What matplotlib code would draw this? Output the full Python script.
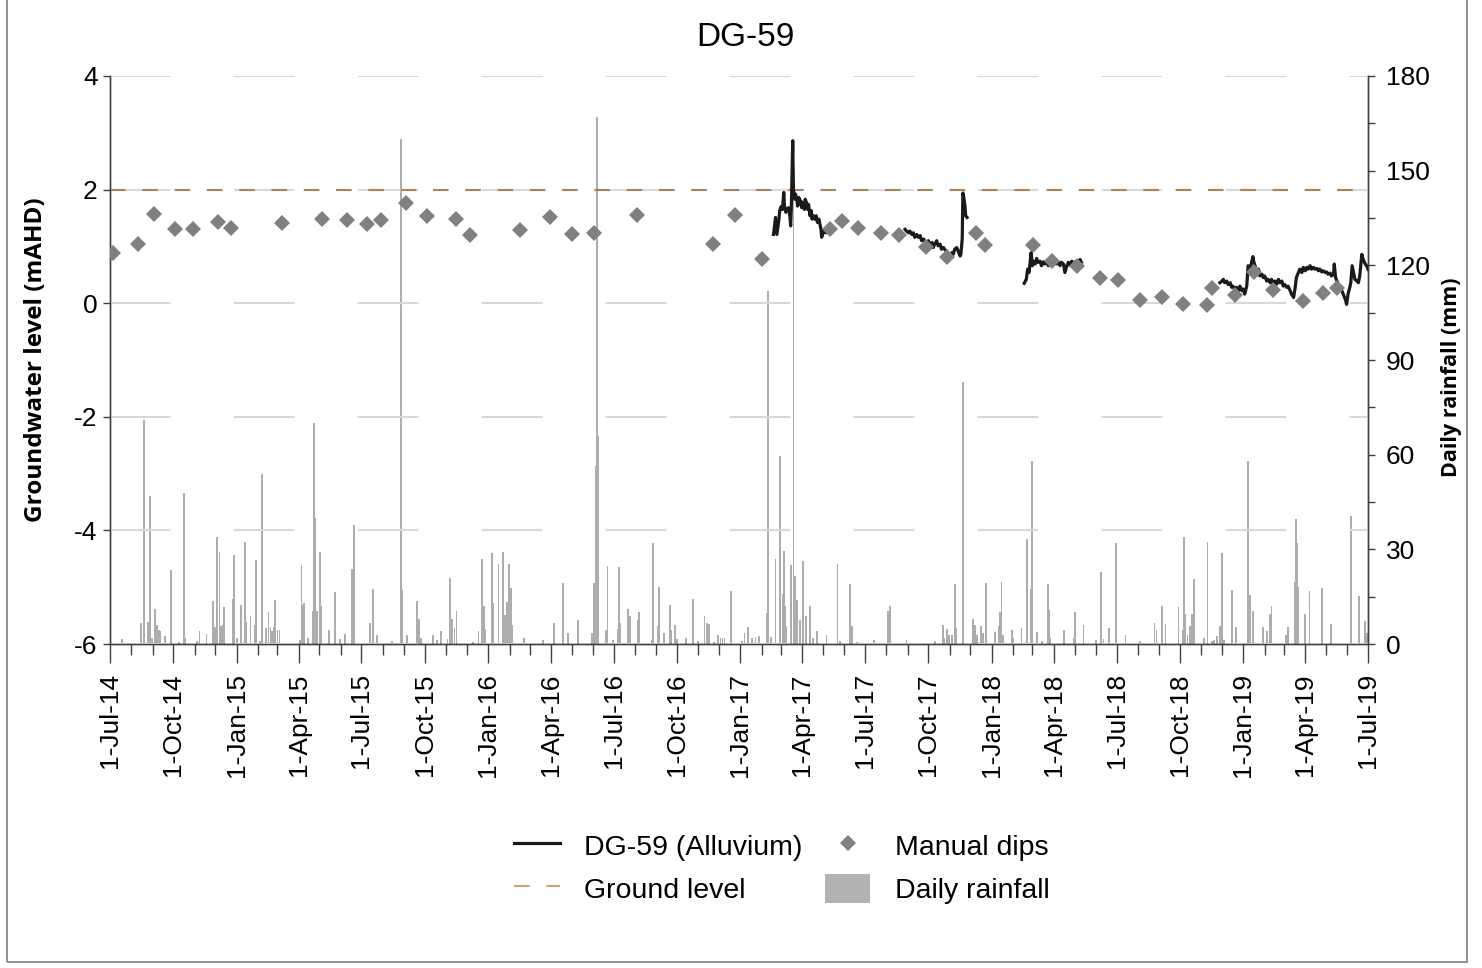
import numpy as np
import pandas as pd
import matplotlib
matplotlib.use("Agg")
import matplotlib.pyplot as plt
import matplotlib.dates as mdates
from matplotlib.lines import Line2D
from matplotlib.patches import Patch, Rectangle

plt.rcParams['font.family'] = ['Liberation Sans', 'DejaVu Sans']
plt.rcParams['axes.unicode_minus'] = False

start = pd.Timestamp('2014-07-01')
end = pd.Timestamp('2019-07-01')

# logger record, days since 1-Jul-2014, level in mAHD (four deployments)
seg_a_day = [963, 964, 966, 968, 969, 971, 972, 974, 976, 978, 979, 981, 983, 985, 987, 988, 989, 991, 992, 994,
             995, 997, 998, 1000, 1001, 1003, 1004, 1006, 1008, 1009, 1011, 1013, 1014, 1016, 1018, 1019, 1021,
             1023, 1025, 1027, 1029, 1031, 1032, 1033, 1035, 1037, 1039, 1041, 1044, 1047, 1050]
seg_a_m = [1.21, 1.30, 1.51, 1.21, 1.30, 1.48, 1.63, 1.70, 1.65, 1.95, 1.70, 1.60, 1.67, 1.68, 1.51, 1.36, 1.71,
           2.86, 2.01, 1.83, 1.92, 1.83, 1.71, 1.86, 1.74, 1.80, 1.68, 1.76, 1.65, 1.83, 1.77, 1.65, 1.74, 1.54,
           1.63, 1.48, 1.54, 1.48, 1.54, 1.42, 1.48, 1.36, 1.30, 1.16, 1.24, 1.30, 1.24, 1.28, 1.30, 1.27, 1.33]
seg_b_day = [1154, 1156, 1159, 1161, 1164, 1166, 1168, 1171, 1173, 1176, 1178, 1181, 1183, 1185, 1188, 1190, 1193,
             1195, 1197, 1200, 1202, 1205, 1207, 1210, 1212, 1214, 1217, 1219, 1222, 1224, 1226, 1229, 1231, 1234,
             1235, 1237, 1238, 1239, 1241, 1242, 1244]
seg_b_m = [1.30, 1.27, 1.24, 1.27, 1.21, 1.24, 1.16, 1.21, 1.16, 1.19, 1.10, 1.13, 1.07, 1.04, 1.10, 1.01, 1.07,
           0.98, 1.04, 1.10, 1.01, 1.04, 0.95, 0.98, 0.94, 0.92, 0.86, 0.83, 0.89, 0.86, 0.95, 0.98, 0.92, 0.83,
           0.86, 1.13, 1.94, 1.89, 1.71, 1.54, 1.51]
seg_c_day = [1327, 1330, 1332, 1334, 1337, 1339, 1340, 1343, 1345, 1347, 1350, 1352, 1355, 1357, 1360, 1362, 1364,
             1367, 1369, 1372, 1374, 1376, 1379, 1381, 1384, 1386, 1389, 1391, 1393, 1396, 1398, 1401, 1403, 1406,
             1408, 1410]
seg_c_m = [0.35, 0.42, 0.60, 0.54, 0.89, 0.66, 0.74, 0.69, 0.79, 0.72, 0.74, 0.66, 0.73, 0.69, 0.74, 0.66, 0.72,
           0.69, 0.72, 0.74, 0.69, 0.73, 0.66, 0.72, 0.69, 0.54, 0.66, 0.72, 0.67, 0.74, 0.70, 0.73, 0.69, 0.74,
           0.77, 0.72]
seg_d_day = [1611, 1614, 1616, 1618, 1621, 1623, 1626, 1628, 1630, 1633, 1635, 1638, 1640, 1643, 1645, 1647, 1650,
             1652, 1655, 1657, 1659, 1660, 1662, 1664, 1667, 1669, 1672, 1674, 1676, 1679, 1681, 1684, 1686, 1689,
             1691, 1693, 1696, 1698, 1701, 1703, 1705, 1708, 1710, 1713, 1715, 1718, 1720, 1722, 1725, 1727, 1730,
             1732, 1735, 1737, 1739, 1742, 1744, 1747, 1749, 1752, 1754, 1756, 1759, 1761, 1764, 1766, 1768, 1771,
             1773, 1776, 1777, 1779, 1781, 1783, 1785, 1788, 1790, 1793, 1795, 1797, 1800, 1801, 1803, 1805, 1807,
             1810, 1812, 1814, 1817, 1819, 1822, 1824, 1826]
seg_d_m = [0.36, 0.39, 0.42, 0.36, 0.39, 0.33, 0.36, 0.28, 0.30, 0.25, 0.28, 0.22, 0.30, 0.22, 0.25, 0.16, 0.30,
           0.66, 0.60, 0.72, 0.82, 0.74, 0.66, 0.57, 0.60, 0.48, 0.51, 0.45, 0.48, 0.39, 0.42, 0.36, 0.42, 0.33,
           0.39, 0.33, 0.42, 0.36, 0.39, 0.30, 0.33, 0.28, 0.30, 0.22, 0.16, 0.10, 0.25, 0.45, 0.54, 0.60, 0.54,
           0.63, 0.57, 0.63, 0.60, 0.66, 0.60, 0.63, 0.60, 0.61, 0.57, 0.60, 0.55, 0.57, 0.54, 0.55, 0.51, 0.53,
           0.48, 0.51, 0.69, 0.45, 0.39, 0.33, 0.25, 0.22, 0.16, 0.07, -0.02, 0.16, 0.30, 0.36, 0.66, 0.54, 0.42,
           0.39, 0.36, 0.48, 0.86, 0.77, 0.69, 0.66, 0.60]

# manual dips
dip_day = [4, 41, 64, 94, 121, 157, 176, 249, 308, 344, 373, 394, 430, 460, 502, 523, 595, 639, 671, 703,
           765, 875, 907, 946, 1045, 1062, 1086, 1119, 1145, 1184, 1215, 1257, 1270, 1340, 1367, 1404, 1437,
           1463, 1495, 1527, 1557, 1592, 1600, 1633, 1661, 1688, 1732, 1761, 1781]
dip_m = [0.88, 1.04, 1.57, 1.30, 1.31, 1.43, 1.33, 1.42, 1.48, 1.46, 1.40, 1.46, 1.77, 1.54, 1.48, 1.20, 1.29,
         1.51, 1.21, 1.23, 1.55, 1.04, 1.55, 0.77, 1.30, 1.44, 1.32, 1.23, 1.20, 0.99, 0.81, 1.23, 1.02, 1.02,
         0.74, 0.65, 0.44, 0.40, 0.05, 0.11, -0.02, -0.04, 0.26, 0.14, 0.55, 0.23, 0.04, 0.18, 0.26]

ground_level = 2.0

# daily rainfall (mm), days since 1-Jul-2014
rain_day = [17, 45, 49, 50, 55, 58, 61, 65, 68, 71, 73, 80, 88, 100, 107, 109, 126, 130, 140, 150, 152, 155, 159,
            161, 164, 166, 178, 180, 184, 190, 196, 197, 204, 211, 212, 218, 221, 226, 230, 233, 235, 238, 240,
            243, 246, 276, 278, 279, 282, 287, 294, 296, 297, 301, 305, 307, 318, 327, 334, 341, 351, 354, 377,
            382, 388, 409, 422, 424, 431, 446, 448, 451, 469, 475, 480, 490, 493, 496, 500, 503, 527, 535, 540,
            543, 545, 554, 556, 564, 571, 573, 576, 579, 582, 584, 601, 628, 645, 658, 665, 679, 700, 703, 705,
            707, 708, 720, 722, 730, 737, 739, 740, 752, 755, 766, 768, 786, 788, 795, 797, 804, 813, 815, 820,
            823, 836, 846, 853, 863, 866, 870, 877, 883, 886, 889, 892, 901, 902, 917, 921, 926, 932, 937, 942,
            953, 955, 959, 966, 972, 976, 978, 980, 982, 989, 992, 994, 997, 998, 1001, 1006, 1010, 1016, 1020,
            1026, 1040, 1056, 1060, 1074, 1077, 1084, 1109, 1129, 1132, 1156, 1198, 1209, 1211, 1215, 1218, 1222,
            1226, 1228, 1238, 1253, 1256, 1258, 1264, 1267, 1272, 1285, 1290, 1292, 1294, 1296, 1309, 1311, 1323,
            1331, 1336, 1338, 1346, 1353, 1361, 1363, 1365, 1385, 1399, 1401, 1413, 1431, 1439, 1442, 1450, 1460,
            1461, 1474, 1495, 1516, 1519, 1527, 1532, 1551, 1558, 1559, 1561, 1564, 1568, 1570, 1573, 1588, 1593,
            1599, 1603, 1607, 1611, 1614, 1617, 1629, 1634, 1652, 1655, 1659, 1674, 1679, 1684, 1686, 1707, 1710,
            1720, 1721, 1723, 1725, 1735, 1741, 1759, 1772, 1801, 1802, 1813, 1822, 1824]
rain_mm = [1.5, 6.8, 71, 49, 7, 47, 2, 11, 6, 4.5, 4, 2.4, 23.5, 0.7, 48, 2, 1, 4.2, 3.2, 13.6, 5.4, 33.8, 29,
           5.7, 6, 11.8, 14.3, 28.2, 2, 12.3, 32.4, 7, 9, 6, 26.6, 1, 53.9, 5, 10.2, 5.3, 4, 5.3, 13.9,
           4.5, 4.4, 1.3, 25, 12.3, 13, 2, 10.6, 70, 40, 10.6, 29, 12, 4.4, 16.6, 1.5, 3.3, 23.7, 37.7, 6.7,
           17.3, 3, 1, 160, 17, 3, 13.6, 8, 2, 3, 1.4, 4, 1.5, 20.8, 8, 5, 10.4, 0.5, 4, 27,
           12, 4.6, 28.7, 13, 25.2, 29, 9.3, 13.3, 25.2, 17.7, 6, 2, 1.4, 6.8, 19.2, 3.5, 7.6, 3.5, 19.2, 56.4,
           167, 66, 4.5, 24.7, 1.4, 4.6, 24.5, 6.6, 11, 9, 7.6, 10.1, 1.4, 32.1, 5.6, 18, 3.5, 12.5, 4.5, 6,
           1.5, 1.8, 14.3, 1, 9, 6.6, 6.4, 0.7, 2.7, 2, 2, 2, 16.9, 8, 1, 3.5, 5.3, 1.8, 2.3, 2.5,
           9.8, 112, 2.3, 27, 59.6, 16, 29.6, 12, 5.6, 25.1, 160, 21.6, 14, 7.8, 7.6, 26.4, 9, 12, 2,
           4, 3, 25.2, 1, 18.9, 5.6, 0.6, 1.4, 10.6, 12, 1.4, 1, 6, 2, 4.6, 3, 3,
           18.9, 5, 83, 7.8, 6, 3, 5.6, 3.5, 19.4, 3.8, 5.6, 10, 19.7, 3, 4.5, 2, 5,
           33.2, 17.4, 58, 3.8, 0.9, 19, 10.8, 1.8, 4.3, 1.8, 10, 6, 1.4, 22.9, 1.5, 5, 31.9,
           5.6, 3, 0.9, 6.6, 4.5, 12, 6.3, 11.8, 4.3, 33.8, 9.5, 3, 5.6, 9.5, 20.5, 2, 32.2,
           1, 1.4, 2.5, 5.6, 28.9, 1.4, 17.1, 5.3, 58, 15.6, 10.6, 5.3, 4.2, 9.5, 12, 3, 5.3,
           19.7, 39.6, 31.9, 18, 9.5, 16.7, 17.7, 6.3, 40.6, 15.9, 15.1, 7.2, 3.5]


def to_dates(days):
    return start + pd.to_timedelta(np.asarray(days), unit='D')


# join logger deployments with gaps between them
log_x, log_y = [], []
for d, m in [(seg_a_day, seg_a_m), (seg_b_day, seg_b_m), (seg_c_day, seg_c_m), (seg_d_day, seg_d_m)]:
    log_x += list(to_dates(d)) + [to_dates([d[-1] + 1])[0]]
    log_y += list(m) + [np.nan]

fig = plt.figure(figsize=(14.82, 9.68), dpi=100)
ax = fig.add_axes([110 / 1482, 1 - 644 / 968, 1258 / 1482, 568 / 968])
ax2 = ax.twinx()
ax.set_zorder(ax2.get_zorder() + 1)
ax.patch.set_visible(False)

# rainfall bars
ax2.bar(to_dates(rain_day), rain_mm, width=2.6, color='#adadad', linewidth=0, zorder=1)
ax2.set_ylim(0, 180)
ax2.set_yticks(np.arange(0, 181, 30))
ax2.set_yticks(np.arange(15, 180, 30), minor=True)

# groundwater
ax.plot([start, end], [ground_level, ground_level], color='#a9845a', lw=1.5,
        linestyle=(0, (7.5, 8)), zorder=2)
ax.plot(log_x, log_y, color='#1a1a1a', lw=2.3, zorder=3)
ax.plot(to_dates(dip_day), dip_m, linestyle='none', marker='D', ms=8.5, color='#808080',
        markeredgewidth=0, zorder=4)

ax.set_xlim(start, end)
ax.set_ylim(-6, 4)
ax.set_yticks(np.arange(-6, 5, 2))
ax.yaxis.grid(True, color='#d9d9d9', lw=1.5, linestyle=(0, (29, 30.5)))
ax.set_axisbelow(True)

ax.xaxis.set_major_locator(mdates.MonthLocator(bymonth=[1, 4, 7, 10]))
ax.xaxis.set_minor_locator(mdates.MonthLocator())
ax.xaxis.set_major_formatter(mdates.DateFormatter('%-d-%b-%y'))

spine_c = '#404040'
for a in (ax, ax2):
    a.spines['top'].set_visible(False)
    for s in ('left', 'right', 'bottom'):
        a.spines[s].set_color(spine_c)
        a.spines[s].set_linewidth(1.0)

ax.tick_params(axis='x', which='major', length=14, width=1, color=spine_c, pad=7,
               labelsize=19, labelrotation=90)
ax.tick_params(axis='x', which='minor', length=8, width=1, color=spine_c)
ax.tick_params(axis='y', length=5, width=1, color=spine_c, pad=4, labelsize=19)
ax2.tick_params(axis='y', which='both', length=5, width=1, color=spine_c, pad=8, labelsize=19)

ax.set_ylabel('Groundwater level (mAHD)', fontsize=17.5, fontweight='bold', family='Open Sans')
ax.yaxis.set_label_coords(-0.049, 0.5)
ax2.set_ylabel('Daily rainfall (mm)', fontsize=15.5, fontweight='bold', family='Open Sans')
ax2.yaxis.set_label_coords(1.058, 0.47)

fig.text(745 / 1482, 1 - 38 / 968, 'DG-59', ha='center', va='center', fontsize=24)

handles = [Line2D([], [], color='#1a1a1a', lw=2.3),
           Line2D([], [], color='#c8a57c', lw=1.5, linestyle=(0, (7.5, 8))),
           Line2D([], [], linestyle='none', marker='D', ms=8.5, color='#808080', markeredgewidth=0),
           Patch(facecolor='#b3b3b3', edgecolor='none')]
labels = ['DG-59 (Alluvium)', 'Ground level', 'Manual dips', 'Daily rainfall']
fig.legend(handles, labels, ncol=2, loc='upper left', bbox_to_anchor=(514 / 1482, 1 - 831 / 968),
           frameon=False, fontsize=20.5, handlelength=1.6, handleheight=1.2, handletextpad=0.85,
           columnspacing=0.8, labelspacing=0.45, borderpad=0, borderaxespad=0)

# figure frame
fig.patches.append(Rectangle((7 / 1482, 6 / 968), 1460 / 1482, 1.0, transform=fig.transFigure,
                             fill=False, edgecolor='#7f7f7f', lw=1.2))

fig.savefig('out.png', dpi=100)
